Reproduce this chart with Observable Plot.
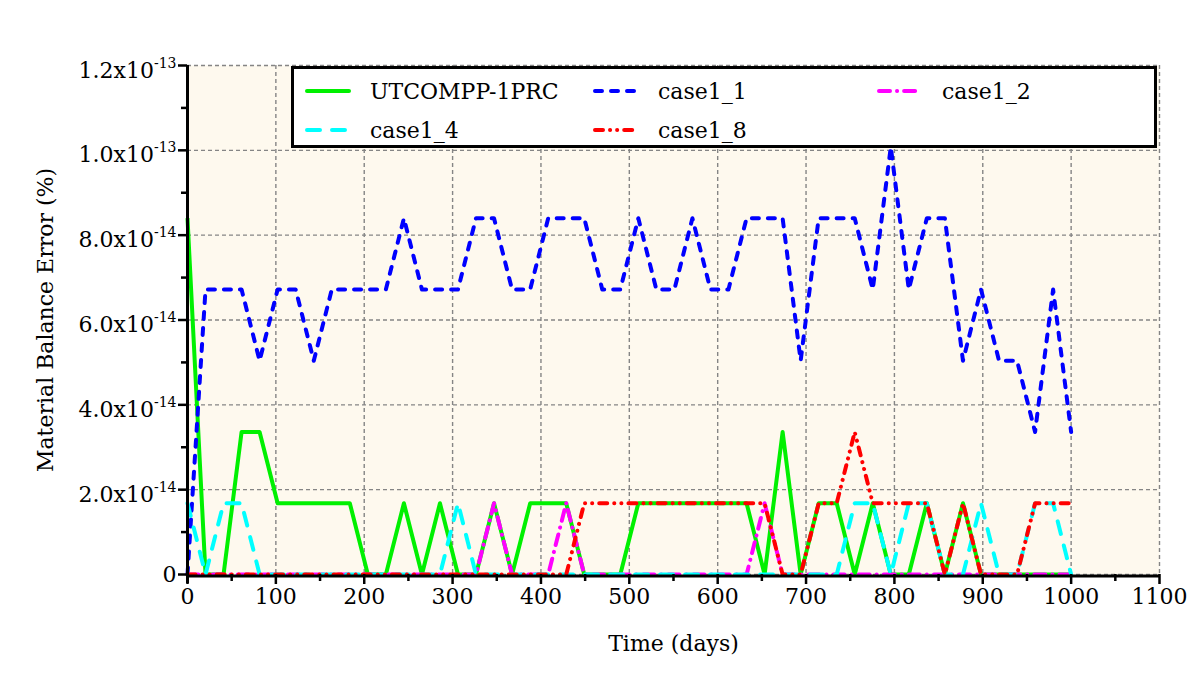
<!DOCTYPE html>
<html>
<head>
<meta charset="utf-8">
<script src="https://cdn.jsdelivr.net/npm/d3@7"></script>
<script src="https://cdn.jsdelivr.net/npm/@observablehq/plot@0.6"></script>
<style>
  html, body { margin: 0; padding: 0; background: #fff; }
  #wrap { position: relative; width: 1203px; height: 683px; font-family: "DejaVu Serif", serif; }
  #legend { position: absolute; left: 291px; top: 66px; width: 866px; height: 82px;
            box-sizing: border-box; border: 3px solid #000; background: #fff; }
  .item { position: absolute; height: 30px; display: flex; align-items: center;
          font-size: 22px; color: #000; white-space: nowrap; }
  .item svg { margin-right: 19px; }
</style>
</head>
<body>
<div id="wrap"></div>
<script>
// Simulation report times (days)
const days = [0, 20.4, 40.8, 61.2, 81.6, 102.0, 122.4, 142.9, 163.3, 183.7,
  204.1, 224.5, 244.9, 265.3, 285.7, 306.1, 326.5, 346.9, 367.3, 387.8,
  408.2, 428.6, 449.0, 469.4, 489.8, 510.2, 530.6, 551.0, 571.4, 591.8,
  612.2, 632.7, 653.1, 673.5, 693.9, 714.3, 734.7, 755.1, 775.5, 795.9,
  816.3, 836.7, 857.1, 877.6, 898.0, 918.4, 938.8, 959.2, 979.6, 1000];

// Material balance error, in units of 1e-14 %
const utcompp = [8.40, 0, 0, 3.36, 3.36, 1.68, 1.68, 1.68, 1.68, 1.68,
  0, 0, 1.68, 0, 1.68, 0, 0, 1.68, 0, 1.68,
  1.68, 1.68, 0, 0, 0, 1.68, 1.68, 1.68, 1.68, 1.68,
  1.68, 1.68, 0, 3.36, 0, 1.68, 1.68, 0, 1.68, 0,
  0, 1.68, 0, 1.68, 0, 0, 0, 0, 0, 0];
const case1_1 = [0, 6.72, 6.72, 6.72, 5.04, 6.72, 6.72, 5.04, 6.72, 6.72,
  6.72, 6.72, 8.40, 6.72, 6.72, 6.72, 8.40, 8.40, 6.72, 6.72,
  8.40, 8.40, 8.40, 6.72, 6.72, 8.40, 6.72, 6.72, 8.40, 6.72,
  6.72, 8.40, 8.40, 8.40, 5.04, 8.40, 8.40, 8.40, 6.72, 10.08,
  6.72, 8.40, 8.40, 5.04, 6.72, 5.04, 5.04, 3.36, 6.72, 3.36];
const case1_2 = [0, 0, 0, 0, 0, 0, 0, 0, 0, 0,
  0, 0, 0, 0, 0, 0, 0, 1.68, 0, 0,
  0, 1.68, 0, 0, 0, 0, 0, 0, 0, 0,
  0, 0, 1.68, 0, 0, 0, 0, 0, 0, 0,
  0, 0, 0, 0, 0, 0, 0, 0, 0, 0];
const case1_4 = [1.68, 0, 1.68, 1.68, 0, 0, 0, 0, 0, 0,
  0, 0, 0, 0, 0, 1.68, 0, 0, 0, 0,
  0, 0, 0, 0, 0, 0, 0, 0, 0, 0,
  0, 0, 0, 0, 0, 0, 0, 1.68, 1.68, 0,
  1.68, 1.68, 0, 0, 1.68, 0, 0, 1.68, 1.68, 0];
const case1_8 = [0, 0, 0, 0, 0, 0, 0, 0, 0, 0,
  0, 0, 0, 0, 0, 0, 0, 0, 0, 0,
  0, 0, 1.68, 1.68, 1.68, 1.68, 1.68, 1.68, 1.68, 1.68,
  1.68, 1.68, 1.68, 0, 0, 1.68, 1.68, 3.36, 1.68, 1.68,
  1.68, 1.68, 0, 1.68, 0, 0, 0, 1.68, 1.68, 1.68];

const seriesNames = ["UTCOMPP-1PRC", "case1_1", "case1_2", "case1_4", "case1_8"];
const seriesValues = [utcompp, case1_1, case1_2, case1_4, case1_8];
const seriesColors = ["#00f000", "#0000ff", "#ff00ff", "#00ffff", "#ff0000"];
const seriesDashes = [null, "7,9", "11,7,0.1,7", "13,12", "8,7,0.1,7,0.1,7"];

// Axis ticks and labels
const xTicks = [0, 100, 200, 300, 400, 500, 600, 700, 800, 900, 1000, 1100];
const xMinorTicks = [50, 150, 250, 350, 450, 550, 650, 750, 850, 950, 1050];
const yTicks = [0, 2, 4, 6, 8, 10, 12];
const yTickLabels = ["0", "2.0x10^-14", "4.0x10^-14", "6.0x10^-14", "8.0x10^-14", "1.0x10^-13", "1.2x10^-13"];
const yMinorTicks = [1, 3, 5, 7, 9, 11];

const tables = seriesNames.map((name, k) =>
  days.map((t, i) => ({series: name, t, v: seriesValues[k][i]})));

const lineMarks = tables.map((rows, k) => Plot.line(rows, {
  x: "t", y: "v",
  stroke: seriesColors[k],
  strokeWidth: 4,
  strokeDasharray: seriesDashes[k] ?? undefined,
  strokeLinecap: seriesDashes[k] ? "round" : "butt",
  strokeLinejoin: "round"
}));

const gridStyle = {stroke: "#858585", strokeOpacity: 1, strokeWidth: 1.4, strokeDasharray: "4,3"};

const chart = Plot.plot({
  width: 1203,
  height: 683,
  marginLeft: 187,
  marginRight: 44,
  marginTop: 65,
  marginBottom: 109,
  x: {domain: [0, 1100], label: null},
  y: {domain: [0, 12], label: null},
  style: {fontFamily: "DejaVu Serif", fontSize: "22px", color: "#000", background: "#fff", overflow: "visible"},
  marks: [
    Plot.frame({fill: "#fef9ee", stroke: "none"}),
    Plot.gridX(xTicks, gridStyle),
    Plot.gridY(yTicks, gridStyle),
    ...lineMarks,
    Plot.ruleY([0], {stroke: "#000", strokeWidth: 3, dy: 1.5}),
    Plot.ruleX([0], {stroke: "#000", strokeWidth: 3, insetBottom: -9}),
    Plot.axisX(xTicks, {tickSize: 10, tickPadding: 4, strokeWidth: 2.5,
      tickFormat: (d) => String(d),
      label: "Time (days)", labelAnchor: "center", labelArrow: "none", labelOffset: 76}),
    Plot.axisX(xMinorTicks, {tickSize: 7, strokeWidth: 2.5, fill: "none", label: null}),
    Plot.axisY(yTicks, {tickSize: 9, tickPadding: 2, strokeWidth: 2.5,
      tickFormat: (d) => yTickLabels[yTicks.indexOf(d)],
      label: "Material Balance Error (%)", labelAnchor: "center", labelArrow: "none", labelOffset: 150}),
    Plot.axisY(yMinorTicks, {tickSize: 6, strokeWidth: 2.5, fill: "none", label: null})
  ]
});

// Render exponents in the y tick labels as superscripts
d3.select(chart).selectAll('g[aria-label="y-axis tick label"] text').each(function () {
  const s = this.textContent;
  const parts = s.split("^");
  if (parts.length === 2) {
    const t = d3.select(this);
    t.text(null);
    t.append("tspan").attr("dy", 5).text(parts[0]);
    t.append("tspan").attr("dy", -10).attr("font-size", "14px").text(parts[1]);
  }
});

const wrap = document.getElementById("wrap");
wrap.appendChild(chart);

// Legend box inside the plot area
const legend = document.createElement("div");
legend.id = "legend";
const legendSlots = [[11, 7], [299, 7], [583, 7], [11, 46], [299, 46]];
seriesNames.forEach((name, k) => {
  const item = document.createElement("div");
  item.className = "item";
  item.style.left = legendSlots[k][0] + "px";
  item.style.top = legendSlots[k][1] + "px";
  const sw = d3.create("svg").attr("width", 46).attr("height", 10);
  sw.append("line")
    .attr("x1", 2).attr("x2", 44).attr("y1", 5).attr("y2", 5)
    .attr("stroke", seriesColors[k]).attr("stroke-width", 4)
    .attr("stroke-dasharray", seriesDashes[k])
    .attr("stroke-linecap", seriesDashes[k] ? "round" : "round");
  item.appendChild(sw.node());
  const label = document.createElement("span");
  label.textContent = name;
  item.appendChild(label);
  legend.appendChild(item);
});
wrap.appendChild(legend);
</script>
</body>
</html>
